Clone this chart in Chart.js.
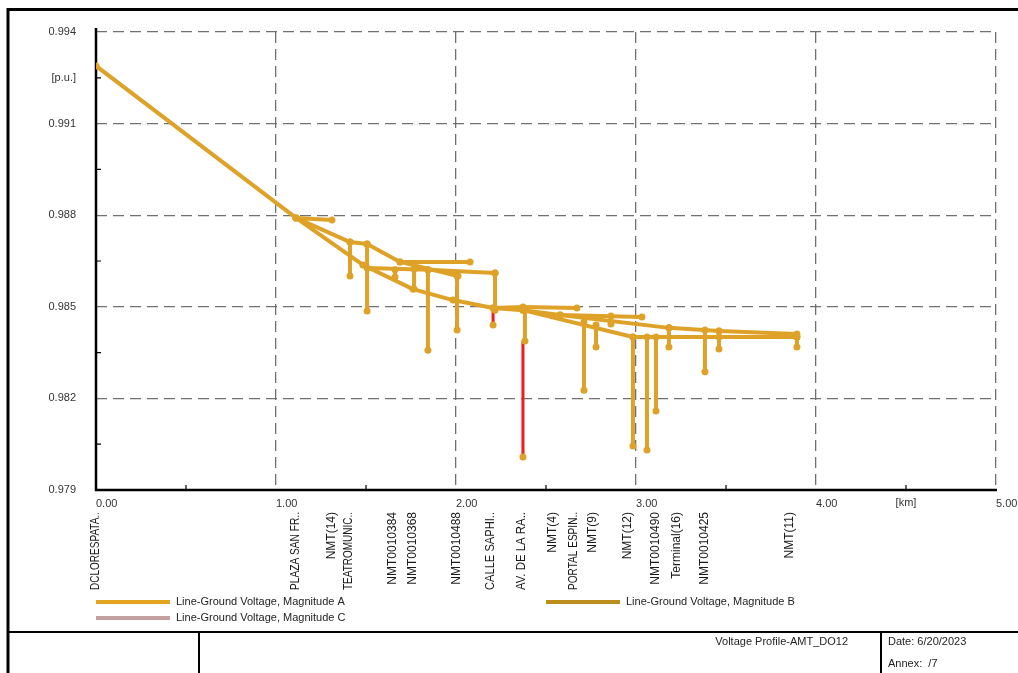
<!DOCTYPE html>
<html>
<head>
<meta charset="utf-8">
<title>Voltage Profile-AMT_DO12</title>
<script src="https://cdn.jsdelivr.net/npm/chart.js@4.4.1/dist/chart.umd.min.js"></script>
<style>
  html, body { margin: 0; padding: 0; background: #ffffff; }
  canvas { display: block; }
</style>
</head>
<body>
<canvas id="profile" width="1018" height="673"></canvas>
<script>
// ---- axis ticks ----
const xTicks = [0, 1, 2, 3, 4, 5];
const yTicks = [0.979, 0.982, 0.985, 0.988, 0.991, 0.994];
const xUnit = '[km]';
const yUnit = '[p.u.]';

// ---- feeder sections: distance [km] / line-ground voltage phase A [p.u.] ----
const trunkKm = [0.000, 1.111, 1.483, 1.761, 1.983, 2.206, 2.372, 2.983, 3.461, 3.894];
const trunkPu = [0.99289, 0.98791, 0.98637, 0.98558, 0.98522, 0.98496, 0.98489, 0.98401, 0.98401, 0.98401];

const nmt14Km = [1.111, 1.311];
const nmt14Pu = [0.98791, 0.98784];

const teatroKm = [1.111, 1.411, 1.506, 1.689, 2.078];
const teatroPu = [0.98791, 0.98712, 0.98706, 0.98647, 0.98647];

const calleKm = [1.506, 1.844, 2.217];
const callePu = [0.98627, 0.98621, 0.98611];

const nmt488Km = [1.689, 2.011];
const nmt488Pu = [0.98647, 0.98601];

const avKm = [2.206, 2.372, 2.672];
const avPu = [0.98496, 0.98499, 0.98496];

const portalKm = [2.372, 2.578, 3.033];
const portalPu = [0.98489, 0.98473, 0.98467];

const terminalKm = [2.578, 3.183, 3.461, 3.894];
const terminalPu = [0.98473, 0.98431, 0.98421, 0.98411];

// transformer / load drops at a node (same distance, lower voltage)
const dropKm     = [1.411, 1.506, 1.661, 1.767, 1.844, 2.006, 2.217, 2.383, 2.711, 2.778, 2.861, 2.983, 3.061, 3.111, 3.183, 3.383, 3.461, 3.894];
const dropFromPu = [0.98712, 0.98706, 0.98621, 0.98624, 0.98621, 0.98601, 0.98611, 0.98489, 0.98450, 0.98440, 0.98470, 0.98401, 0.98401, 0.98401, 0.98431, 0.98424, 0.98421, 0.98401];
const dropToPu   = [0.98601, 0.98486, 0.98598, 0.98558, 0.98358, 0.98424, 0.98489, 0.98388, 0.98227, 0.98368, 0.98444, 0.98044, 0.98031, 0.98159, 0.98368, 0.98287, 0.98362, 0.98368];

// drops flagged in red
const redKm     = [2.206, 2.372];
const redFromPu = [0.98489, 0.98388];
const redToPu   = [0.98440, 0.98008];

// ---- node names along the distance axis ----
const nodeNames = ['DCLORESPATA..', 'PLAZA SAN FR..', 'NMT(14)', 'TEATROMUNIC..', 'NMT0010384', 'NMT0010368',
                   'NMT0010488', 'CALLE SAPHI..', 'AV. DE LA RA..', 'NMT(4)', 'PORTAL ESPIN..', 'NMT(9)',
                   'NMT(12)', 'NMT0010490', 'Terminal(16)', 'NMT0010425', 'NMT(11)'];
const nodeKm = [0.000, 1.111, 1.311, 1.403, 1.650, 1.761, 2.006, 2.194, 2.367, 2.539, 2.656, 2.761,
                2.953, 3.111, 3.228, 3.383, 3.856];

// ---- legend and title block ----
const legendLabels = ['Line-Ground Voltage, Magnitude A', 'Line-Ground Voltage, Magnitude B', 'Line-Ground Voltage, Magnitude C'];
const legendColors = ['#E3A51F', '#BC8E1C', '#C4A0A0'];
const sheetTitle = 'Voltage Profile-AMT_DO12';
const sheetDate = 'Date: 6/20/2023';
const sheetAnnex = 'Annex:  /7';

const FONT = '"Liberation Sans", Arial, sans-serif';
const PHASE_A = '#DEA228';
const RED = '#F21A1A';

function points(km, pu) { return km.map((x, i) => ({ x: x, y: pu[i] })); }

const datasets = [];
function addSection(km, pu) {
  datasets.push({
    label: legendLabels[0], data: points(km, pu), showLine: true,
    borderColor: PHASE_A, borderWidth: 4, borderJoinStyle: 'round', borderCapStyle: 'round',
    pointRadius: 3.5, pointBackgroundColor: PHASE_A, pointBorderWidth: 0, order: 0
  });
}
addSection(trunkKm, trunkPu);
addSection(nmt14Km, nmt14Pu);
addSection(teatroKm, teatroPu);
addSection(calleKm, callePu);
addSection(nmt488Km, nmt488Pu);
addSection(avKm, avPu);
addSection(portalKm, portalPu);
addSection(terminalKm, terminalPu);
dropKm.forEach((k, i) => addSection([k, k], [dropFromPu[i], dropToPu[i]]));
redKm.forEach((k, i) => datasets.push({
  label: legendLabels[0], data: points([k, k], [redFromPu[i], redToPu[i]]), showLine: true,
  borderColor: RED, borderWidth: 3, pointRadius: [0, 3.5], pointBackgroundColor: PHASE_A,
  pointBorderWidth: 0, order: 1
}));

const sheetPlugin = {
  id: 'sheet',
  beforeDraw(chart) {
    const ctx = chart.ctx;
    ctx.save();
    ctx.fillStyle = '#ffffff';
    ctx.fillRect(0, 0, chart.width, chart.height);
    ctx.restore();
  },
  beforeDatasetsDraw(chart) {
    const ctx = chart.ctx, a = chart.chartArea;
    const xs = chart.scales.x, ys = chart.scales.y;
    ctx.save();
    ctx.strokeStyle = '#000000';
    ctx.lineWidth = 2.5;
    ctx.beginPath();
    ctx.moveTo(a.left, a.top - 4);
    ctx.lineTo(a.left, a.bottom);
    ctx.lineTo(a.right + 1, a.bottom);
    ctx.stroke();
    // minor ticks halfway between the labelled ticks
    ctx.lineWidth = 1.2;
    ctx.beginPath();
    for (let i = 0; i < xTicks.length - 1; i++) {
      const px = xs.getPixelForValue((xTicks[i] + xTicks[i + 1]) / 2);
      ctx.moveTo(px, a.bottom); ctx.lineTo(px, a.bottom - 5);
    }
    for (let i = 0; i < yTicks.length - 1; i++) {
      const py = ys.getPixelForValue((yTicks[i] + yTicks[i + 1]) / 2);
      ctx.moveTo(a.left, py); ctx.lineTo(a.left + 5, py);
    }
    ctx.stroke();
    ctx.restore();
  },
  afterDraw(chart) {
    const ctx = chart.ctx, a = chart.chartArea;
    const xs = chart.scales.x, ys = chart.scales.y;
    ctx.save();

    // unit labels
    ctx.fillStyle = '#333333';
    ctx.font = '11px ' + FONT;
    ctx.textAlign = 'center';
    ctx.textBaseline = 'top';
    ctx.fillText(xUnit, xs.getPixelForValue((xTicks[4] + xTicks[5]) / 2), 497);
    ctx.textAlign = 'right';
    ctx.textBaseline = 'middle';
    ctx.fillText(yUnit, a.left - 20, ys.getPixelForValue((yTicks[4] + yTicks[5]) / 2));

    // node names, written upwards
    ctx.fillStyle = '#1a1a1a';
    ctx.font = '12px ' + FONT;
    ctx.textAlign = 'right';
    ctx.textBaseline = 'middle';
    nodeNames.forEach((name, i) => {
      ctx.save();
      ctx.translate(xs.getPixelForValue(nodeKm[i]), 512);
      ctx.rotate(-Math.PI / 2);
      ctx.fillText(name, 0, 0, 78);
      ctx.restore();
    });

    // legend
    const leg = [[96, 602], [546, 602], [96, 618]];
    ctx.font = '11px ' + FONT;
    ctx.textAlign = 'left';
    ctx.fillStyle = '#222222';
    legendLabels.forEach((lab, i) => {
      const [lx, ly] = leg[i];
      ctx.strokeStyle = legendColors[i];
      ctx.lineWidth = 4;
      ctx.beginPath();
      ctx.moveTo(lx, ly); ctx.lineTo(lx + 74, ly);
      ctx.stroke();
      ctx.fillText(lab, lx + 80, ly);
    });

    // drawing frame and title block
    ctx.strokeStyle = '#000000';
    ctx.lineWidth = 3;
    ctx.beginPath();
    ctx.moveTo(8, chart.height); ctx.lineTo(8, 9.5); ctx.lineTo(chart.width, 9.5);
    ctx.stroke();
    ctx.lineWidth = 2;
    ctx.beginPath();
    ctx.moveTo(8, 632); ctx.lineTo(chart.width, 632);
    ctx.moveTo(199, 632); ctx.lineTo(199, chart.height);
    ctx.moveTo(881, 632); ctx.lineTo(881, chart.height);
    ctx.stroke();
    ctx.fillStyle = '#222222';
    ctx.textAlign = 'right';
    ctx.fillText(sheetTitle, 848, 642);
    ctx.textAlign = 'left';
    ctx.fillText(sheetDate, 888, 642);
    ctx.fillText(sheetAnnex, 888, 664);
    ctx.restore();
  }
};

new Chart(document.getElementById('profile'), {
  type: 'scatter',
  data: { datasets: datasets },
  options: {
    responsive: false,
    animation: false,
    events: [],
    layout: { padding: { left: 0, right: 22, top: 32, bottom: 0 } },
    plugins: { legend: { display: false }, tooltip: { enabled: false } },
    scales: {
      x: {
        type: 'linear', min: 0, max: 5,
        afterBuildTicks(s) { s.ticks = xTicks.map(v => ({ value: v })); },
        afterFit(s) { s.height = 183; s.paddingLeft = 0; s.paddingRight = 0; },
        ticks: { autoSkip: false, maxRotation: 0, align: 'start', padding: 7, color: '#333333',
                 font: { family: FONT, size: 11 }, callback: v => Number(v).toFixed(2) },
        grid: { color: '#707070', lineWidth: 1.3, drawTicks: false },
        border: { display: false, dash: [11, 6] }
      },
      y: {
        type: 'linear', min: 0.979, max: 0.994,
        afterBuildTicks(s) { s.ticks = yTicks.map(v => ({ value: v })); },
        afterFit(s) { s.width = 96; s.paddingTop = 0; s.paddingBottom = 0; },
        ticks: { autoSkip: false, padding: 20, color: '#333333',
                 font: { family: FONT, size: 11 }, callback: v => Number(v).toFixed(3) },
        grid: { color: '#707070', lineWidth: 1.3, drawTicks: false },
        border: { display: false, dash: [11, 6] }
      }
    }
  },
  plugins: [sheetPlugin]
});
</script>
</body>
</html>
